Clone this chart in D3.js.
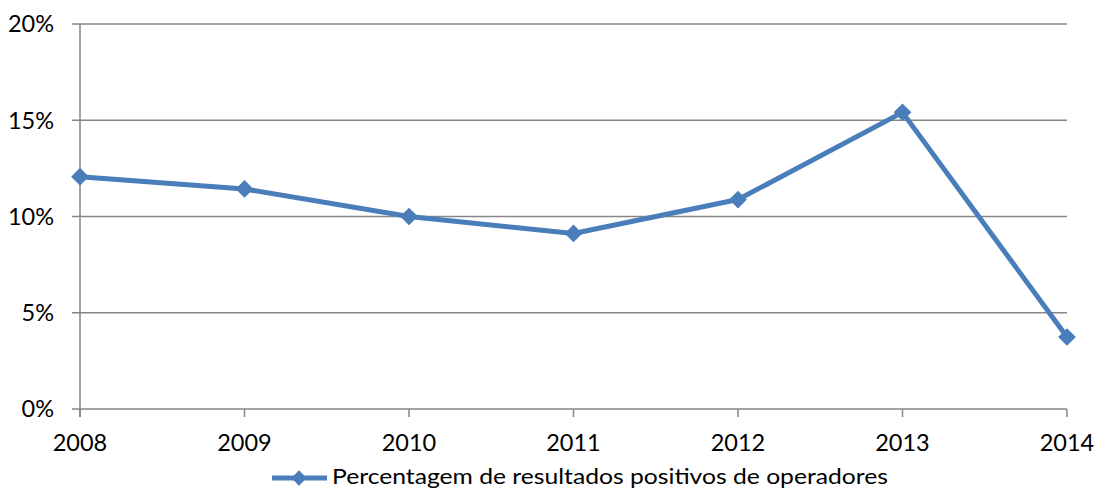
<!DOCTYPE html>
<html><head><meta charset="utf-8">
<script src="https://cdn.jsdelivr.net/npm/d3@7"></script>
<style>body{margin:0;background:#fff}svg{display:block}text{font-family:Lato,"Open Sans",sans-serif;fill:#000}</style>
</head><body><svg id="c" width="1098" height="490"></svg>
<script>
const categories = ["2008","2009","2010","2011","2012","2013","2014"];
const values = [12.07, 11.43, 10.0, 9.12, 10.88, 15.41, 3.74];
const yTicks = [0, 5, 10, 15, 20];
const seriesName = "Percentagem de resultados positivos de operadores";

const svg = d3.select("#c");
const mLeft = 80, mRight = 1067, mTop = 24, mBottom = 409;
const x = d3.scalePoint().domain(categories).range([mLeft, mRight]);
const y = d3.scaleLinear().domain([0, 20]).range([mBottom, mTop]);
const grid = "#868686", blue = "#4A7EBB";

// gridlines
svg.append("g").selectAll("line").data(yTicks).join("line")
  .attr("x1", mLeft - 8).attr("x2", mRight).attr("y1", d => y(d)).attr("y2", d => y(d))
  .attr("stroke", grid).attr("stroke-width", 1.5);
// y axis line
svg.append("line").attr("x1", mLeft).attr("x2", mLeft).attr("y1", mTop).attr("y2", mBottom + 8)
  .attr("stroke", grid).attr("stroke-width", 1.5);
// x ticks
svg.append("g").selectAll("line").data(categories).join("line")
  .attr("x1", d => x(d)).attr("x2", d => x(d)).attr("y1", mBottom).attr("y2", mBottom + 8)
  .attr("stroke", grid).attr("stroke-width", 1.5);
// y labels
svg.append("g").selectAll("text").data(yTicks).join("text")
  .attr("x", 54).attr("y", d => y(d)).attr("dy", "0.36em").attr("text-anchor", "end")
  .attr("font-size", 23.5).text(d => d + "%");
// x labels
svg.append("g").selectAll("text").data(categories).join("text")
  .attr("x", d => x(d)).attr("y", 443).attr("dy", "0.36em").attr("text-anchor", "middle")
  .attr("font-size", 23.5).text(d => d);

const pts = categories.map((c, i) => [x(c), y(values[i])]);
svg.append("path").attr("d", d3.line()(pts)).attr("fill", "none")
  .attr("stroke", blue).attr("stroke-width", 5).attr("stroke-linejoin", "round");
const diamond = d3.symbol().type(d3.symbolDiamond2).size(200);
svg.append("g").selectAll("path").data(pts).join("path")
  .attr("transform", d => `translate(${d[0]},${d[1]})`).attr("d", diamond).attr("fill", blue);

// legend
const lg = svg.append("g");
lg.append("line").attr("x1", 272).attr("x2", 327).attr("y1", 478).attr("y2", 478)
  .attr("stroke", blue).attr("stroke-width", 5);
lg.append("path").attr("transform", "translate(299,478)").attr("d", d3.symbol().type(d3.symbolDiamond2).size(150)).attr("fill", blue);
lg.append("text").attr("x", 332).attr("y", 484).attr("font-size", 21)
  .attr("textLength", 556).attr("lengthAdjust", "spacingAndGlyphs").text(seriesName);
</script></body></html>
